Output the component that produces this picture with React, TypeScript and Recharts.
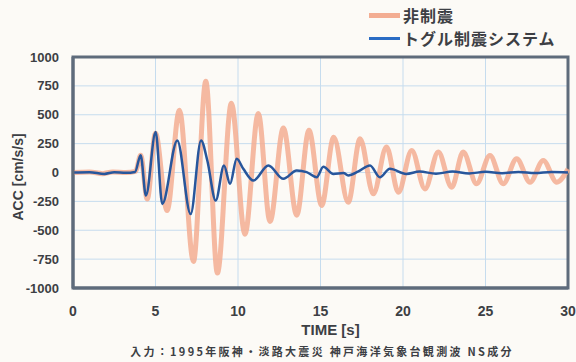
import React from 'react';
import {
  LineChart,
  Line,
  XAxis,
  YAxis,
  CartesianGrid,
  ReferenceArea,
} from 'recharts';

// 時刻 [s] と加速度 [cm/s/s] の読み取り値
const uncontrolledTime = [
  0, 1, 1.8, 2.4, 3.2, 3.8, 4.1, 4.5, 5.0, 5.7, 6.45, 7.3, 8.05, 8.75, 9.6,
  10.42, 11.23, 11.94, 12.75, 13.56, 14.3, 15.07, 15.8, 16.68, 17.4, 18.2, 19.0,
  19.72, 20.53, 21.33, 22.14, 22.95, 23.65, 24.46, 25.27, 26.07, 26.89, 27.7,
  28.5, 29.32, 30,
];
const uncontrolledAcc = [
  0, 5, -10, 5, 0, 10, 150, -230, 340, -330, 540, -770, 790, -870, 600, -535,
  510, -425, 385, -370, 365, -285, 305, -258, 293, -185, 220, -171, 191, -142,
  177, -128, 177, -98, 148, -98, 119, -84, 104, -84, 30,
];

const toggleTime = [
  0, 1, 1.9, 2.5, 3.2, 3.76, 4.1, 4.42, 5.01, 5.41, 6.32, 7.13, 7.76, 8.14,
  8.65, 9.15, 9.52, 9.92, 10.32, 10.93, 11.84, 12.75, 13.56, 14.16, 14.77,
  15.17, 15.78, 16.4, 16.68, 17.3, 18.0, 18.6, 19.2, 20.2, 21, 22, 23, 24, 25,
  26, 27, 28, 29, 30,
];
const toggleAcc = [
  0, 3, -12, 3, -3, 5, 150, -200, 350, -272, 278, -360, 278, 104, -243, 61, -98,
  119, 32, -70, 61, -55, 17, 3, -41, 50, -12, -5, -26, 10, 61, -41, 32, -12, 8,
  -10, 8, -8, 6, -6, 5, -5, 4, 0,
];

const xTicks = [0, 5, 10, 15, 20, 25, 30];
const yTicks = [-1000, -750, -500, -250, 0, 250, 500, 750, 1000];

const seriesNames = ['非制震', 'トグル制震システム'];

const uncontrolledData = uncontrolledTime.map((t, i) => ({ t, acc: uncontrolledAcc[i] }));
const toggleData = toggleTime.map((t, i) => ({ t, acc: toggleAcc[i] }));

const ORANGE = '#f3ad92';
const BLUE = '#27569c';
const TEXT = '#3d3f44';
const FRAME = '#5e6b7b';
const LATIN = 'Liberation Sans, Arial, sans-serif';

const LegendBox = () => (
  <div
    style={{
      position: 'absolute',
      left: 369,
      top: 4,
      fontFamily: '"Noto Sans CJK JP", sans-serif',
      fontWeight: 700,
      fontSize: 16,
      color: TEXT,
      lineHeight: '23px',
    }}
  >
    {seriesNames.map((name, i) => (
      <div key={name} style={{ display: 'flex', alignItems: 'center' }}>
        <span
          style={{
            display: 'inline-block',
            width: 31,
            height: i === 0 ? 5 : 3,
            background: i === 0 ? ORANGE : '#2a6cc4',
            marginRight: 3,
          }}
        />
        <span style={{ letterSpacing: 1 }}>{name}</span>
      </div>
    ))}
  </div>
);

export default function App() {
  return (
    <div style={{ position: 'fixed', left: 0, top: 0, width: 576, height: 362, background: '#fcfaf6' }}>
      <LineChart
        width={576}
        height={362}
        margin={{ top: 57, right: 8, left: 30, bottom: 44 }}
      >
        <CartesianGrid stroke="#c6dcee" strokeWidth={1} />
        <XAxis
          dataKey="t"
          type="number"
          domain={[0, 30]}
          ticks={xTicks}
          allowDuplicatedCategory={false}
          tickLine={false}
          tickMargin={12}
          axisLine={{ stroke: FRAME, strokeWidth: 3 }}
          tick={{ fill: TEXT, fontSize: 14, fontWeight: 700, fontFamily: LATIN }}
          label={{
            value: 'TIME [s]',
            position: 'insideBottom',
            offset: -17,
            dx: 10,
            fill: TEXT,
            fontSize: 15,
            fontWeight: 700,
            fontFamily: LATIN,
          }}
        />
        <YAxis
          type="number"
          domain={[-1000, 1000]}
          ticks={yTicks}
          width={43}
          tickLine={false}
          tickMargin={8}
          interval={0}
          axisLine={{ stroke: FRAME, strokeWidth: 3 }}
          tick={{ fill: TEXT, fontSize: 13, fontWeight: 700, fontFamily: LATIN }}
          label={{
            value: 'ACC [cm/s/s]',
            angle: -90,
            position: 'insideLeft',
            offset: -12,
            dy: 48,
            fill: TEXT,
            fontSize: 14,
            fontWeight: 700,
            fontFamily: LATIN,
          }}
        />
        <ReferenceArea
          x1={0}
          x2={30}
          y1={-1000}
          y2={1000}
          fill="none"
          stroke={FRAME}
          strokeWidth={3}
        />
        <Line
          data={uncontrolledData}
          dataKey="acc"
          name={seriesNames[0]}
          type="monotone"
          stroke={ORANGE}
          strokeOpacity={0.85}
          strokeWidth={5}
          dot={false}
          isAnimationActive={false}
        />
        <Line
          data={toggleData}
          dataKey="acc"
          name={seriesNames[1]}
          type="monotone"
          stroke={BLUE}
          strokeWidth={2.5}
          dot={false}
          isAnimationActive={false}
        />
      </LineChart>
      <LegendBox />
      <div
        style={{
          position: 'absolute',
          left: 0,
          width: 576,
          top: 343,
          paddingLeft: 68,
          textAlign: 'center',
          fontFamily: '"Noto Sans CJK JP", sans-serif',
          fontWeight: 700,
          fontSize: 11,
          letterSpacing: 2.3,
          color: TEXT,
          boxSizing: 'border-box',
        }}
      >
        入力：1995年阪神・淡路大震災 神戸海洋気象台観測波 NS成分
      </div>
    </div>
  );
}
